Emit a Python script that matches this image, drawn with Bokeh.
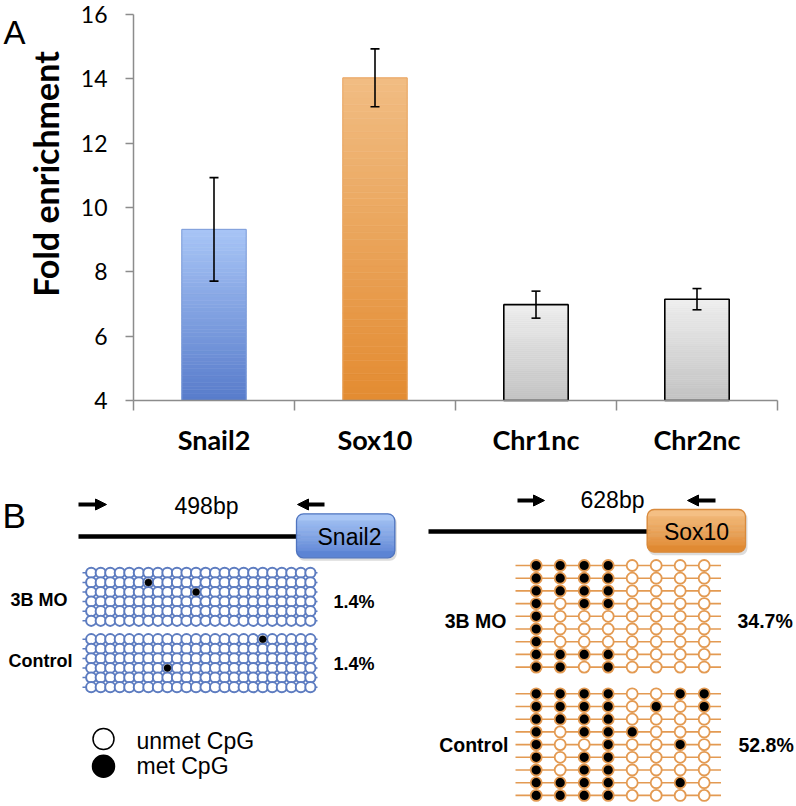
import numpy as np
from bokeh.plotting import figure
from bokeh.models import (Range1d, FixedTicker, Whisker, TeeHead, ColumnDataSource,
                          Arrow, NormalHead)
from bokeh.embed import file_html
from bokeh.resources import INLINE
from bokeh.core.properties import value

# ---------------- data ----------------
categories = ["Snail2", "Sox10", "Chr1nc", "Chr2nc"]
fold = [9.32, 14.03, 6.98, 7.15]
err = [1.61, 0.90, 0.42, 0.33]
y_ticks = [4, 6, 8, 10, 12, 14, 16]
y_title = "Fold enrichment"

groups = ["3B MO", "Control"]
genes = ["Snail2", "Sox10"]
amplicons = ["498bp", "628bp"]

snail_cols = 24
snail_rows = 6
snail_met = [[(1, 6), (2, 11)], [(0, 18), (3, 8)]]  # (row, col) of methylated CpG
snail_pct = ["1.4%", "1.4%"]

sox_3b = [
    [1, 1, 1, 1, 0, 0, 0, 0],
    [1, 1, 1, 1, 0, 0, 0, 0],
    [1, 1, 1, 1, 0, 0, 0, 0],
    [1, 0, 1, 1, 0, 0, 0, 0],
    [1, 0, 0, 0, 0, 0, 0, 0],
    [1, 0, 0, 0, 0, 0, 0, 0],
    [1, 0, 0, 0, 0, 0, 0, 0],
    [1, 1, 1, 1, 0, 0, 0, 0],
    [1, 1, 0, 1, 0, 0, 0, 0],
]
sox_ctrl = [
    [1, 1, 1, 1, 0, 0, 1, 1],
    [1, 1, 1, 1, 0, 1, 0, 1],
    [1, 1, 1, 1, 0, 0, 0, 0],
    [1, 0, 1, 1, 1, 0, 0, 0],
    [1, 0, 0, 1, 0, 0, 1, 0],
    [1, 0, 1, 1, 0, 0, 0, 0],
    [1, 0, 1, 1, 0, 0, 0, 0],
    [1, 1, 1, 1, 0, 0, 1, 0],
    [1, 1, 1, 1, 0, 0, 0, 0],
]
sox_pct = ["34.7%", "52.8%"]
legend_labels = ["unmet CpG", "met CpG"]

# ---------------- styles ----------------
bar_top = ["#a8c5f6", "#f1bd83", "#eeeeee", "#eeeeee"]
bar_bot = ["#587ccb", "#e38b31", "#c2c2c2", "#c2c2c2"]
bar_line = ["#7e9dd9", "#e9a765", "#000000", "#000000"]
bar_lw = [1.0, 1.0, 1.6, 1.6]
AX = "#8c8c8c"
TOPFONT = "Lato"
BFONT = "Liberation Sans"


def hx(c):
    c = c.lstrip("#")
    return np.array([int(c[i:i + 2], 16) for i in (0, 2, 4)], dtype=float)


def mix(c_bot, c_top, t):
    a, b = hx(c_bot), hx(c_top)
    m = a + (b - a) * t
    return "#%02x%02x%02x" % tuple(int(round(v)) for v in m)


# ---------------- panel A ----------------
# pixel layout of the panel: y axis at x=133, plot right end at x=777,
# value 4 at y=400 and value 16 at y=14; the frame covers the whole canvas
W1, H1 = 796, 456
AXIS_X, RIGHT_X, Y_LO, Y_HI = 133, 777, 400, 14
ncat = len(categories)
ppu_x = (RIGHT_X - AXIS_X) / ncat
ppu_y = (Y_LO - Y_HI) / (y_ticks[-1] - y_ticks[0])
p1 = figure(width=W1, height=H1,
            x_range=Range1d(-AXIS_X / ppu_x, (W1 - AXIS_X) / ppu_x),
            y_range=Range1d(y_ticks[0] - (H1 - Y_LO) / ppu_y, y_ticks[0] + Y_LO / ppu_y),
            output_backend="svg", toolbar_location=None, min_border=0)
p1.extra_x_ranges = {"px": Range1d(0, W1)}
p1.extra_y_ranges = {"px": Range1d(-H1, 0)}
p1.xgrid.visible = False
p1.ygrid.visible = False
p1.outline_line_color = None

N = 48
xs, bots, tops, cols = [], [], [], []
for i, v in enumerate(fold):
    base = y_ticks[0]
    for k in range(N):
        xs.append(i + 0.5)
        bots.append(base + (v - base) * k / N)
        tops.append(base + (v - base) * (k + 1) / N)
        cols.append(mix(bar_bot[i], bar_top[i], (k + 0.5) / N))
p1.vbar(x=xs, bottom=bots, top=tops, width=0.4, fill_color=cols,
        line_color=cols, line_width=0.6)
centers = [i + 0.5 for i in range(ncat)]
p1.vbar(x=centers, bottom=y_ticks[0], top=fold, width=0.4, fill_color=None,
        line_color=bar_line, line_width=bar_lw)

esrc = ColumnDataSource(dict(base=centers,
                             upper=[f + e for f, e in zip(fold, err)],
                             lower=[f - e for f, e in zip(fold, err)]))
p1.add_layout(Whisker(source=esrc, base="base", upper="upper", lower="lower",
                      level="overlay", line_width=1.6, line_color="black",
                      upper_head=TeeHead(size=9, line_width=1.6, line_color="black"),
                      lower_head=TeeHead(size=9, line_width=1.6, line_color="black")))

xa = p1.xaxis[0]
xa.fixed_location = y_ticks[0]
xa.bounds = (0, ncat)
xa.ticker = FixedTicker(ticks=centers, minor_ticks=list(range(ncat + 1)))
xa.major_label_overrides = {c: n for c, n in zip(centers, categories)}
xa.major_tick_line_color = None
xa.minor_tick_line_color = AX
xa.minor_tick_line_width = 1.5
xa.minor_tick_out = 10
xa.minor_tick_in = 0
xa.axis_line_color = AX
xa.axis_line_width = 1.5
xa.major_label_text_font = TOPFONT
xa.major_label_text_font_style = "bold"
xa.major_label_text_font_size = "27px"
xa.major_label_text_color = "black"
xa.major_label_standoff = 12

ya = p1.yaxis[0]
ya.fixed_location = 0
ya.bounds = (y_ticks[0], y_ticks[-1])
ya.ticker = FixedTicker(ticks=y_ticks, minor_ticks=[])
ya.major_tick_out = 8
ya.major_tick_in = 0
ya.major_tick_line_color = AX
ya.major_tick_line_width = 1.5
ya.minor_tick_line_color = None
ya.axis_line_color = AX
ya.axis_line_width = 1.5
ya.major_label_text_font = TOPFONT
ya.major_label_text_font_size = "23px"
ya.major_label_text_color = "black"
ya.major_label_standoff = 18

# y title and panel letter, placed in pixel coordinates
p1.text(x=[45], y=[-173.5], text=[y_title], angle=np.pi / 2,
        x_range_name="px", y_range_name="px", text_font=value(TOPFONT),
        text_font_style="bold", text_font_size="34px", text_align="center",
        text_baseline="alphabetic", text_color="black")
p1.text(x=[3], y=[-32], text=["A"], x_range_name="px", y_range_name="px",
        text_font=value(BFONT), text_font_size="33px", text_align="left",
        text_baseline="alphabetic", text_color="black")

# ---------------- panel B ----------------
p2 = figure(width=796, height=350, x_range=Range1d(0, 796), y_range=Range1d(806, 456),
            output_backend="svg", toolbar_location=None,
            x_axis_location=None, y_axis_location=None, min_border=0)
p2.xgrid.visible = False
p2.ygrid.visible = False
p2.outline_line_color = None

p2.text(x=[2], y=[515], text=["B"], text_font=value(BFONT), text_font_size="35px",
        text_baseline="alphabetic", text_align="left", text_color="black")

# gene diagrams
diag = [
    dict(line=(78, 300, 536), arr_r=(78, 106, 504), arr_l=(324, 297, 504),
         amp=(206, 505), box=(296, 394.3, 513.3, 557.3), gtext=(349, 536),
         ctop="#a9c6f5", cbot="#5c84d4", cline="#4f74bf"),
    dict(line=(428, 650, 531), arr_r=(517, 544, 500), arr_l=(715, 687, 500),
         amp=(612, 499), box=(646.7, 745, 509, 551.7), gtext=(696, 531),
         ctop="#f4bf84", cbot="#e08a33", cline="#d98a3c"),
]
HEAD = 11
for g, gene, amp in zip(diag, genes, amplicons):
    x0, x1, y = g["line"]
    p2.segment(x0=[x0], y0=[y], x1=[x1], y1=[y], line_color="black", line_width=4.5)
    for (xa0, xa1, ya0) in (g["arr_r"], g["arr_l"]):
        d = 1 if xa1 > xa0 else -1
        p2.segment(x0=[xa0], y0=[ya0], x1=[xa1 - d * (HEAD - 1)], y1=[ya0],
                   line_color="black", line_width=4)
        p2.add_layout(Arrow(x_start=xa1 - d, y_start=ya0, x_end=xa1, y_end=ya0,
                            line_alpha=0, line_width=0,
                            end=NormalHead(size=HEAD, fill_color="black",
                                           line_color="black", line_width=1)))
    p2.text(x=[g["amp"][0]], y=[g["amp"][1]], text=[amp], text_font=value(BFONT),
            text_font_size="23px", text_align="center", text_baseline="middle",
            text_color="black")
    l, r, t, b = g["box"]
    rad = 7
    p2.quad(left=[l + 1], right=[r + 2], top=[t + 2], bottom=[b + 3],
            fill_color="#9a9a9a", fill_alpha=0.35, line_color=None, border_radius=rad)
    p2.quad(left=[l], right=[r], top=[t], bottom=[t + 2 * rad], fill_color=g["ctop"],
            line_color=None, border_radius=rad)
    p2.quad(left=[l], right=[r], top=[b - 2 * rad], bottom=[b], fill_color=g["cbot"],
            line_color=None, border_radius=rad)
    M = 24
    sl_t, sl_b, sl_c = [], [], []
    for k in range(M):
        yt = t + rad + (b - t - 2 * rad) * k / M
        yb = t + rad + (b - t - 2 * rad) * (k + 1) / M
        frac = 1 - ((yt + yb) / 2 - t) / (b - t)
        sl_t.append(yt)
        sl_b.append(yb)
        sl_c.append(mix(g["cbot"], g["ctop"], frac))
    p2.quad(left=l, right=r, top=sl_t, bottom=sl_b, fill_color=sl_c, line_color=sl_c,
            line_width=0.6)
    p2.quad(left=[l], right=[r], top=[t], bottom=[b], fill_color=None,
            line_color=g["cline"], line_width=1.3, border_radius=rad)
    p2.text(x=[g["gtext"][0]], y=[g["gtext"][1]], text=[gene], text_font=value(BFONT),
            text_font_size="23px", text_align="center", text_baseline="middle",
            text_color="black")

# Snail2 methylation grid
BLUE = "#5d7cc0"
s_x0, s_dx, s_dy = 90.7, 9.53, 9.6
s_y0 = [572.3, 638.7]
for gi in range(2):
    ys_rows = [s_y0[gi] + r * s_dy for r in range(snail_rows)]
    p2.segment(x0=82, y0=ys_rows, x1=317, y1=ys_rows, line_color=BLUE, line_width=1.5)
    cx = [s_x0 + c * s_dx for r in range(snail_rows) for c in range(snail_cols)]
    cy = [s_y0[gi] + r * s_dy for r in range(snail_rows) for c in range(snail_cols)]
    p2.scatter(cx, cy, size=10.2, fill_color="white", line_color=BLUE, line_width=2)
    mx = [s_x0 + c * s_dx for (r, c) in snail_met[gi]]
    my = [s_y0[gi] + r * s_dy for (r, c) in snail_met[gi]]
    p2.scatter(mx, my, size=7, fill_color="black", line_color="black", line_width=0.5)

# Sox10 methylation grid
ORANGE = "#e39a52"
o_x0, o_dx, o_dy = 535.7, 24.0, 12.7
o_y0 = [565.0, 693.3]
for gi, pat in enumerate([sox_3b, sox_ctrl]):
    nrow = len(pat)
    ys_rows = [o_y0[gi] + r * o_dy for r in range(nrow)]
    p2.segment(x0=515, y0=ys_rows, x1=720.5, y1=ys_rows, line_color=ORANGE, line_width=1.6)
    cx, cy, fc = [], [], []
    for r, row in enumerate(pat):
        for c, m in enumerate(row):
            cx.append(o_x0 + c * o_dx)
            cy.append(o_y0[gi] + r * o_dy)
            fc.append("black" if m else "white")
    p2.scatter(cx, cy, size=11, fill_color=fc, line_color=ORANGE, line_width=1.8)

# group labels and percentages
p2.text(x=[67, 72], y=[599, 660], text=groups, text_font=value(BFONT),
        text_font_style="bold", text_font_size="18px", text_align="right",
        text_baseline="middle", text_color="black")
p2.text(x=[333, 333], y=[601, 663], text=snail_pct, text_font=value(BFONT),
        text_font_style="bold", text_font_size="18px", text_align="left",
        text_baseline="middle", text_color="black")
p2.text(x=[506, 508], y=[620, 744.5], text=groups, text_font=value(BFONT),
        text_font_style="bold", text_font_size="19.5px", text_align="right",
        text_baseline="middle", text_color="black")
p2.text(x=[737, 738], y=[620, 744.5], text=sox_pct, text_font=value(BFONT),
        text_font_style="bold", text_font_size="19.5px", text_align="left",
        text_baseline="middle", text_color="black")

# legend
p2.scatter([103, 103], [738.5, 765.8], size=[21, 22], fill_color=["white", "black"],
           line_color="black", line_width=1.5)
p2.text(x=[136, 136], y=[740, 765.5], text=legend_labels, text_font=value(BFONT),
        text_font_size="23px", text_align="left", text_baseline="middle",
        text_color="black")

open("out.html", "w").write(file_html([p1, p2], INLINE))
